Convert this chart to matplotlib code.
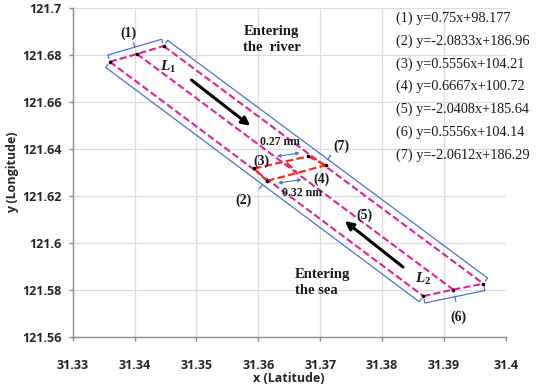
import numpy as np
import matplotlib
matplotlib.use("Agg")
import matplotlib.pyplot as plt

plt.rcParams["mathtext.fontset"] = "custom"
plt.rcParams["mathtext.it"] = "Liberation Serif:italic:bold"
plt.rcParams["mathtext.rm"] = "Liberation Serif:bold"
plt.rcParams["mathtext.bf"] = "Liberation Serif:bold"

# ---------------- data (x = latitude, y = longitude) ----------------
x_ticks = [31.33, 31.34, 31.35, 31.36, 31.37, 31.38, 31.39, 31.40]
x_tick_labels = ["31.33", "31.34", "31.35", "31.36", "31.37", "31.38", "31.39", "31.4"]
y_ticks = [121.56, 121.58, 121.60, 121.62, 121.64, 121.66, 121.68, 121.70]
y_tick_labels = ["121.56", "121.58", "121.6", "121.62", "121.64", "121.66", "121.68", "121.7"]

# channel end points: left / middle / right
top_x = [31.3360, 31.3404, 31.3447]      # line (1), L1 end
top_y = [121.6771, 121.6804, 121.6838]
bot_x = [31.3867, 31.3915, 31.3964]      # line (6), L2 end
bot_y = [121.5772, 121.5800, 121.5825]

# red monitoring section: line (3) and line (4)
sec3_x = [31.3593, 31.3646, 31.3681]     # left, middle, right crossing
sec3_y = [121.6316, 121.6340, 121.6368]
sec4_x = [31.3614, 31.3662, 31.3709]
sec4_y = [121.6263, 121.6301, 121.6330]

equations = ["(1) y=0.75x+98.177", "(2) y=-2.0833x+186.96", "(3) y=0.5556x+104.21",
             "(4) y=0.6667x+100.72", "(5) y=-2.0408x+185.64", "(6) y=0.5556x+104.14",
             "(7) y=-2.0612x+186.29"]

# arrows (start, end)
arrow_in = [(31.3492, 121.6693), (31.3587, 121.6498)]
arrow_out = [(31.3834, 121.5896), (31.3740, 121.6092)]
width1 = [(31.3630, 121.6368), (31.3667, 121.6382)]   # 0.27 nm
width2 = [(31.3632, 121.6254), (31.3670, 121.6269)]   # 0.32 nm

# ---------------- style ----------------
MAG = "#e0209c"
RED = "#ff2a1a"
BLUE = "#4d6fe0"
SERIF = "Liberation Serif"
SANS = "Open Sans"

fig = plt.figure(figsize=(5.53, 3.90), dpi=100)
W, H = 553, 390
L, R, T, B = 72.7, 505.7, 8.0, 336.5
ax = fig.add_axes([L / W, (H - B) / H, (R - L) / W, (B - T) / H])
ax.set_xlim(31.33, 31.40)
ax.set_ylim(121.56, 121.70)
tick_font = dict(fontfamily=SANS, fontweight="bold", fontsize=9, color="#262626")
ax.set_xticks(x_ticks)
ax.set_xticklabels(x_tick_labels, **tick_font)
ax.set_yticks(y_ticks)
ax.set_yticklabels(y_tick_labels, **tick_font)
ax.grid(True, color="#dcdcdc", lw=0.9, zorder=0)
ax.set_axisbelow(True)
for s in ["top", "right"]:
    ax.spines[s].set_visible(False)
for s in ["left", "bottom"]:
    ax.spines[s].set_color("#8c8c8c")
    ax.spines[s].set_linewidth(1.0)
ax.tick_params(axis="both", direction="out", length=3, color="#8c8c8c", width=1.0)
ax.tick_params(axis="x", pad=13)
ax.tick_params(axis="y", pad=5)
ax.set_xlabel("x (Latitude)", fontfamily=SANS, fontweight="bold", fontsize=9,
              color="#262626", labelpad=0)
ax.set_ylabel("y (Longitude)", fontfamily=SANS, fontweight="bold", fontsize=9,
              color="#262626", labelpad=2)

dash = dict(dashes=(3.4, 1.5))

# channel dashed lines
for i in range(3):
    ax.plot([top_x[i], bot_x[i]], [top_y[i], bot_y[i]], color=MAG, lw=1.5, zorder=3, **dash)
ax.plot(top_x, top_y, color=MAG, lw=1.5, zorder=3, **dash)
ax.plot(bot_x, bot_y, color=MAG, lw=1.5, zorder=3, **dash)

# red section
ax.plot([sec3_x[0], sec3_x[2]], [sec3_y[0], sec3_y[2]], color=RED, lw=1.6, zorder=4, **dash)
ax.plot([sec4_x[0], sec4_x[2]], [sec4_y[0], sec4_y[2]], color=RED, lw=1.6, zorder=4, **dash)
for i in range(3):
    ax.plot([sec3_x[i], sec4_x[i]], [sec3_y[i], sec4_y[i]], color=RED, lw=1.6, zorder=4, **dash)

# black corner dots
ax.plot(top_x, top_y, "o", color="black", ms=2.6, zorder=5, mec="none")
ax.plot(bot_x, bot_y, "o", color="black", ms=2.6, zorder=5, mec="none")
ax.plot([sec3_x[0], sec3_x[2], sec4_x[0], sec4_x[2]],
        [sec3_y[0], sec3_y[2], sec4_y[0], sec4_y[2]], "o", color="black", ms=2.6,
        zorder=5, mec="none")

# blue boundary brackets (offset in display pixels from the channel edges)
inv = ax.transData.inverted()


def bracket(xa, ya, xb, yb, sign, off=7.0, hook=3.5, tick=4.5):
    pa = ax.transData.transform((xa, ya))
    pb = ax.transData.transform((xb, yb))
    d = (pb - pa) / np.linalg.norm(pb - pa)
    n = np.array([-d[1], d[0]]) * sign
    a = pa + off * n
    b = pb + off * n
    m = (a + b) / 2
    main = inv.transform(np.array([a - hook * n, a, b, b - hook * n]))
    tk = inv.transform(np.array([m, m + tick * n]))
    ax.plot(main[:, 0], main[:, 1], color=BLUE, lw=0.9, zorder=3)
    ax.plot(tk[:, 0], tk[:, 1], color=BLUE, lw=0.9, zorder=3)


bracket(top_x[0], top_y[0], top_x[2], top_y[2], +1)     # (1)
bracket(bot_x[0], bot_y[0], bot_x[2], bot_y[2], -1)     # (6)
bracket(top_x[0], top_y[0], bot_x[0], bot_y[0], -1)     # (2)
bracket(top_x[2], top_y[2], bot_x[2], bot_y[2], +1)     # (7)

# direction arrows
for (p0, p1) in [arrow_in, arrow_out]:
    ax.annotate("", xy=p1, xytext=p0,
                arrowprops=dict(arrowstyle="-|>", lw=2.2, color="black",
                                mutation_scale=12, shrinkA=0, shrinkB=0), zorder=6)
for (p0, p1) in [width1, width2]:
    ax.annotate("", xy=p1, xytext=p0,
                arrowprops=dict(arrowstyle="<|-|>", lw=0.8, color=BLUE,
                                mutation_scale=5, shrinkA=0, shrinkB=0), zorder=6)

# labels
lab_kw = dict(fontfamily=SERIF, fontweight="bold", color="#1a1a1a", zorder=7)
ax.text(31.3390, 121.6892, "(1)", fontsize=10, ha="center", va="center", **lab_kw)
ax.text(31.3576, 121.6901, "Entering", fontsize=10.5, ha="left", va="center", **lab_kw)
ax.text(31.3576, 121.6830, "the  river", fontsize=10.5, ha="left", va="center", **lab_kw)
ax.text(31.3455, 121.6749, r"$L_1$", fontsize=11, ha="center",
        va="center", color="#1a1a1a", zorder=7)
ax.text(31.3635, 121.6429, "0.27 nm", fontsize=8.5, ha="center", va="center", **lab_kw)
ax.text(31.3605, 121.6347, "(3)", fontsize=10, ha="center", va="center", **lab_kw)
ax.text(31.3702, 121.6270, "(4)", fontsize=10, ha="center", va="center", **lab_kw)
ax.text(31.3735, 121.6411, "(7)", fontsize=10, ha="center", va="center", **lab_kw)
ax.text(31.3670, 121.6212, "0.32 nm", fontsize=8.5, ha="center", va="center", **lab_kw)
ax.text(31.3576, 121.6180, "(2)", fontsize=10, ha="center", va="center", **lab_kw)
ax.text(31.3772, 121.6116, "(5)", fontsize=10, ha="center", va="center", **lab_kw)
ax.text(31.3659, 121.5863, "Entering", fontsize=10.5, ha="left", va="center", **lab_kw)
ax.text(31.3659, 121.5796, "the sea", fontsize=10.5, ha="left", va="center", **lab_kw)
ax.text(31.3867, 121.5846, r"$L_2$", fontsize=11, ha="center",
        va="center", color="#1a1a1a", zorder=7)
ax.text(31.3923, 121.5682, "(6)", fontsize=10, ha="center", va="center", **lab_kw)

eq_y0 = 121.6957
for k, eq in enumerate(equations):
    ax.text(31.3823, eq_y0 - k * 0.00975, eq, fontsize=10.3, ha="left", va="center",
            fontfamily=SERIF, color="#1a1a1a", zorder=7)

fig.savefig("out.png", dpi=100)
